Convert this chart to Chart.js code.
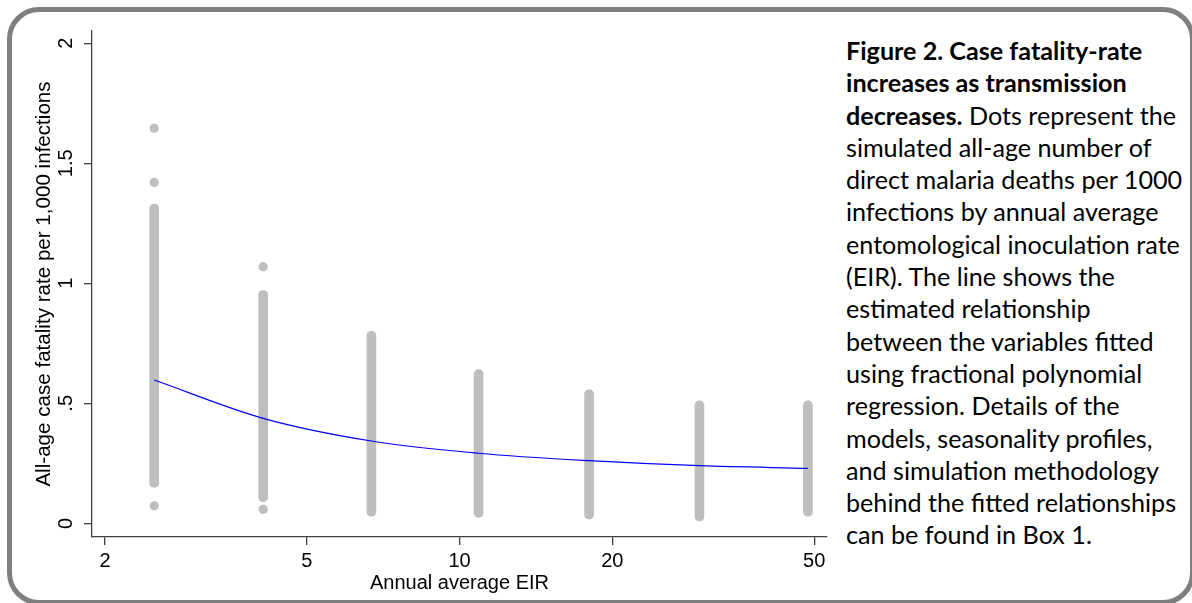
<!DOCTYPE html>
<html>
<head>
<meta charset="utf-8">
<script src="https://cdn.jsdelivr.net/npm/chart.js@4.4.0/dist/chart.umd.min.js"></script>
<style>
  html, body { margin: 0; padding: 0; background: #fff; width: 1192px; height: 603px; overflow: hidden; }
  #frame { position: absolute; left: 7px; top: 7px; width: 1188px; height: 598px; box-sizing: border-box;
           border: 5px solid #7f7f7f; border-radius: 32px; }
  #wrap { position: absolute; left: 0; top: 0; width: 840px; height: 603px; }
  #caption { position: absolute; left: 846px; top: 34px; font-family: Lato, "Open Sans", sans-serif;
             color: #000; white-space: nowrap; font-size: 21px; }
  #caption div { height: 32.3px; line-height: 32.3px; }
</style>
</head>
<body>
<div id="frame"></div>
<div id="wrap"><canvas id="myChart" width="840" height="603"></canvas></div>
<div id="caption">
  <div><b>Figure 2. Case fatality-rate</b></div>
  <div><b>increases as transmission</b></div>
  <div><b>decreases.</b> Dots represent the</div>
  <div>simulated all-age number of</div>
  <div>direct malaria deaths per 1000</div>
  <div>infections by annual average</div>
  <div>entomological inoculation rate</div>
  <div>(EIR). The line shows the</div>
  <div>estimated relationship</div>
  <div>between the variables fitted</div>
  <div>using fractional polynomial</div>
  <div>regression. Details of the</div>
  <div>models, seasonality profiles,</div>
  <div>and simulation methodology</div>
  <div>behind the fitted relationships</div>
  <div>can be found in Box 1.</div>
</div>
<script>
// simulated EIR levels (one column of dots each)
var eir = [2.5, 4.1, 6.7, 10.9, 18, 29.7, 48.6];
// extent of the dense part of each column
var bandLow  = [0.15, 0.09, 0.03, 0.025, 0.018, 0.01, 0.03];
var bandHigh = [1.33, 0.97, 0.80, 0.64, 0.556, 0.51, 0.51];
// isolated dots outside the dense part
var outlierX = [2.5, 2.5, 2.5, 4.1, 4.1];
var outlierY = [1.646, 1.42, 0.073, 1.069, 0.058];
// fractional polynomial fit
var fitted = [0.597, 0.4375, 0.343, 0.292, 0.261, 0.240, 0.229];

var xTicks = [2, 5, 10, 20, 50];
var yTicks = [0, 0.5, 1, 1.5, 2];
var yTickLabels = ['0', '.5', '1', '1.5', '2'];
var yTitle = 'All-age case fatality rate per 1,000 infections';

var axisFont = { family: 'Liberation Sans', size: 20 };
var axisColor = '#404040';
var dotColor = '#bebebe';

// fit caption font size to the reference line width
var mctx = document.createElement('canvas').getContext('2d');
mctx.font = '100px Lato';
var w = mctx.measureText('direct malaria deaths per 1000').width;
document.getElementById('caption').style.fontSize = (100 * 337 / w) + 'px';

// rotated y tick labels and y title, placed like Stata does
var yLabelsPlugin = {
    id: 'yLabels',
    afterDraw: function(chart) {
        var ctx = chart.ctx, y = chart.scales.y;
        ctx.save();
        ctx.fillStyle = '#000';
        ctx.font = axisFont.size + 'px "' + axisFont.family + '"';
        ctx.textAlign = 'center';
        ctx.textBaseline = 'middle';
        yTicks.forEach(function(v, i) {
            ctx.save();
            ctx.translate(66, y.getPixelForValue(v));
            ctx.rotate(-Math.PI / 2);
            ctx.fillText(yTickLabels[i], 0, 0);
            ctx.restore();
        });
        ctx.font = '20.6px "' + axisFont.family + '"';
        ctx.translate(44, (y.top + y.bottom) / 2);
        ctx.rotate(-Math.PI / 2);
        ctx.fillText(yTitle, 0, 0);
        ctx.restore();
    }
};

var ctx = document.getElementById('myChart').getContext('2d');
var chart = new Chart(ctx, {
    type: 'bar',
    data: {
        datasets: [
            {
                type: 'line',
                label: 'Fitted',
                data: eir.map(function(x, i) { return { x: x, y: fitted[i] }; }),
                borderColor: '#0000ff',
                borderWidth: 1.2,
                pointRadius: 0,
                cubicInterpolationMode: 'monotone',
                fill: false,
                order: 0
            },
            {
                type: 'scatter',
                label: 'Outliers',
                data: outlierX.map(function(x, i) { return { x: x, y: outlierY[i] }; }),
                backgroundColor: dotColor,
                borderWidth: 0,
                pointRadius: 4.6,
                order: 1
            },
            {
                type: 'bar',
                label: 'Simulations',
                data: eir.map(function(x, i) { return { x: x, y: [bandLow[i], bandHigh[i]] }; }),
                backgroundColor: dotColor,
                borderWidth: 0,
                borderSkipped: false,
                borderRadius: 4.6,
                barThickness: 9,
                order: 2
            }
        ]
    },
    options: {
        responsive: false,
        animation: false,
        layout: { padding: { top: 31, right: 13, left: 0, bottom: 0 } },
        plugins: { legend: { display: false }, tooltip: { enabled: false } },
        scales: {
            x: {
                type: 'logarithmic',
                position: 'bottom',
                min: 1.885,
                max: 53,
                offset: false,
                afterBuildTicks: function(s) { s.ticks = xTicks.map(function(v) { return { value: v }; }); },
                afterFit: function(s) { s.height = 66; },
                grid: { offset: false, drawOnChartArea: false, drawTicks: true, tickLength: 8, color: axisColor, lineWidth: 1.3 },
                border: { display: true, color: axisColor, width: 1.3 },
                ticks: { color: '#000', font: axisFont, padding: 4, autoSkip: false, maxRotation: 0,
                         callback: function(v) { return String(v); } },
                title: { display: true, text: 'Annual average EIR', color: '#000', font: axisFont,
                         padding: { top: 0, bottom: 8 } }
            },
            y: {
                type: 'linear',
                min: -0.057,
                max: 2.051,
                afterBuildTicks: function(s) { s.ticks = yTicks.map(function(v) { return { value: v }; }); },
                afterFit: function(s) { s.width = 92; },
                grid: { offset: false, drawOnChartArea: false, drawTicks: true, tickLength: 8, color: axisColor, lineWidth: 1.3 },
                border: { display: true, color: axisColor, width: 1.3 },
                ticks: { display: false },
                title: { display: false }
            }
        }
    },
    plugins: [yLabelsPlugin]
});
</script>
</body>
</html>
